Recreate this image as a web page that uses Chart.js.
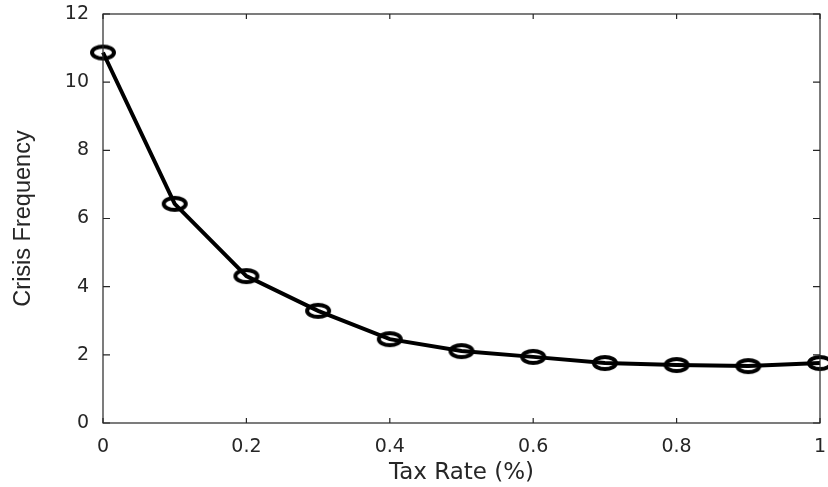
<!DOCTYPE html>
<html>
<head>
<meta charset="utf-8">
<script src="https://cdn.jsdelivr.net/npm/chart.js@4.4.0/dist/chart.umd.min.js"></script>
<style>
  html, body { margin: 0; padding: 0; background: #fff; }
  #wrap { width: 828px; height: 487px; }
</style>
</head>
<body>
<div id="wrap"><canvas id="crisisChart" width="828" height="487"></canvas></div>
<script>
// Data
const taxRates = [0, 0.1, 0.2, 0.3, 0.4, 0.5, 0.6, 0.7, 0.8, 0.9, 1.0];
const crisisFreq = [10.87, 6.43, 4.31, 3.29, 2.46, 2.11, 1.94, 1.76, 1.70, 1.67, 1.76];
const xTicks = [0, 0.2, 0.4, 0.6, 0.8, 1];
const yTicks = [0, 2, 4, 6, 8, 10, 12];

// Ellipse marker (the original figure is stretched sideways)
function makeMarker() {
    const c = document.createElement("canvas");
    c.width = 30;
    c.height = 20;
    const g = c.getContext("2d");
    g.strokeStyle = "#000";
    g.lineWidth = 4;
    g.beginPath();
    g.ellipse(15, 10, 11, 6, 0, 0, Math.PI * 2);
    g.stroke();
    return c;
}

// Box around plot area and inward tick marks
const boxPlugin = {
    id: "boxPlugin",
    afterDraw(chart) {
        const ctx = chart.ctx;
        const a = chart.chartArea;
        const xs = chart.scales.x;
        const ys = chart.scales.y;
        ctx.save();
        ctx.strokeStyle = "#262626";
        ctx.lineWidth = 1.2;
        ctx.strokeRect(a.left, a.top, a.right - a.left, a.bottom - a.top);
        ctx.beginPath();
        xTicks.forEach(v => {
            const px = xs.getPixelForValue(v);
            ctx.moveTo(px, a.bottom);
            ctx.lineTo(px, a.bottom - 5);
            ctx.moveTo(px, a.top);
            ctx.lineTo(px, a.top + 5);
        });
        yTicks.forEach(v => {
            const py = ys.getPixelForValue(v);
            ctx.moveTo(a.left, py);
            ctx.lineTo(a.left + 7, py);
            ctx.moveTo(a.right, py);
            ctx.lineTo(a.right - 7, py);
        });
        ctx.stroke();
        ctx.restore();
    }
};

new Chart(document.getElementById("crisisChart").getContext("2d"), {
    type: 'line',
    data: {
        labels: taxRates,
        datasets: [{
            label: 'Crisis Frequency',
            data: taxRates.map((x, i) => ({ x: x, y: crisisFreq[i] })),
            borderColor: '#000',
            borderWidth: 4,
            pointStyle: makeMarker(),
            tension: 0,
            clip: false
        }]
    },
    options: {
        responsive: false,
        animation: false,
        layout: { padding: { top: 14, right: 5, left: 0, bottom: 0 } },
        plugins: {
            legend: { display: false },
            tooltip: { enabled: false }
        },
        scales: {
            x: {
                type: 'linear',
                min: 0,
                max: 1,
                afterBuildTicks: s => { s.ticks = xTicks.map(v => ({ value: v })); },
                afterFit: s => { s.height = 64; s.paddingLeft = 0; s.paddingRight = 0; },
                grid: { display: false, drawTicks: false },
                border: { display: false },
                ticks: {
                    color: '#262626',
                    padding: 13,
                    maxRotation: 0,
                    font: { family: 'DejaVu Sans', size: 19 },
                    callback: v => String(v)
                },
                title: {
                    display: true,
                    text: 'Tax Rate (%)',
                    color: '#262626',
                    padding: { top: 0, bottom: 0 },
                    font: { family: 'DejaVu Sans', size: 23 }
                }
            },
            y: {
                min: 0,
                max: 12,
                afterBuildTicks: s => { s.ticks = yTicks.map(v => ({ value: v })); },
                afterFit: s => { s.width = 103; s.paddingTop = 0; s.paddingBottom = 0; },
                grid: { display: false, drawTicks: false },
                border: { display: false },
                ticks: {
                    color: '#262626',
                    padding: 14,
                    font: { family: 'DejaVu Sans', size: 19 }
                },
                title: {
                    display: true,
                    text: 'Crisis Frequency',
                    color: '#262626',
                    padding: { top: 9, bottom: 0 },
                    font: { family: 'Liberation Sans', size: 23.5 }
                }
            }
        }
    },
    plugins: [boxPlugin]
});
</script>
</body>
</html>
